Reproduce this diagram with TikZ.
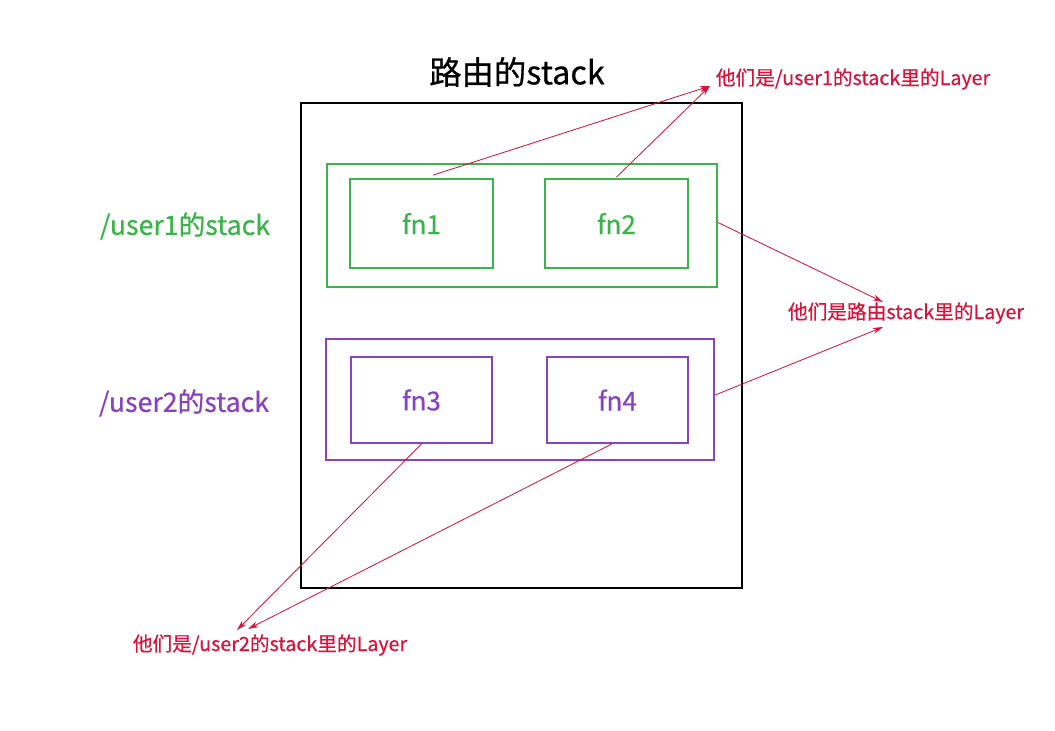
\documentclass[tikz,border=0pt]{standalone}
\usepackage{fontspec}
\setmainfont{Noto Sans CJK SC}[FakeBold=0.6]
\usepackage{xcolor}
\definecolor{vizStack}{HTML}{000000}
\definecolor{vizUserOne}{HTML}{3BB44A}
\definecolor{vizUserTwo}{HTML}{8A43C0}
\definecolor{vizNote}{HTML}{D7143C}
\usetikzlibrary{arrows.meta}

\begin{document}
\begin{tikzpicture}[x=0.025cm,y=-0.025cm,
  box/.style={draw,inner sep=0pt},
  note/.style={text=vizNote,font=\fontsize{14}{16}\selectfont},
  pointer/.style={draw=vizNote,line width=0.6pt,-{Stealth[length=2.6mm,width=1.5mm]}}]
  \filldraw[fill=white, draw=none] (0,0) rectangle (1055,731);
  \useasboundingbox (0,0) rectangle (1055,731);
  % route stack
  \node (title) at (517,72) {\fontsize{23}{27}\selectfont 路由的stack};
  \node[box, draw=vizStack, line width=1.8pt, minimum width=11.025cm, minimum height=12.125cm] (route) at (521.5,345.5) {};
  % /user1
  \node[box, draw=vizUserOne, line width=1.3pt, minimum width=9.75cm, minimum height=3.075cm] (userone) at (522,225.5) {};
  \node[box, draw=vizUserOne, line width=1.3pt, minimum width=3.575cm, minimum height=2.225cm, text=vizUserOne, font=\fontsize{18.5}{22}\selectfont] (fnone) at (421.5,223.5) {fn1};
  \node[box, draw=vizUserOne, line width=1.3pt, minimum width=3.575cm, minimum height=2.225cm, text=vizUserOne, font=\fontsize{18.5}{22}\selectfont] (fntwo) at (616.5,223.5) {fn2};
  \node[text=vizUserOne, font=\fontsize{19}{22}\selectfont] (labone) at (185,226) {/user1的stack};
  % /user2
  \node[box, draw=vizUserTwo, line width=1.3pt, minimum width=9.7cm, minimum height=3.025cm] (usertwo) at (520,399.5) {};
  \node[box, draw=vizUserTwo, line width=1.3pt, minimum width=3.525cm, minimum height=2.15cm, text=vizUserTwo, font=\fontsize{18.5}{22}\selectfont] (fnthree) at (421.5,400) {fn3};
  \node[box, draw=vizUserTwo, line width=1.3pt, minimum width=3.525cm, minimum height=2.15cm, text=vizUserTwo, font=\fontsize{18.5}{22}\selectfont] (fnfour) at (617.5,400) {fn4};
  \node[text=vizUserTwo, font=\fontsize{19}{22}\selectfont] (labtwo) at (184,403) {/user2的stack};
  % notes
  \node[note] (noteone) at (853,79) {他们是/user1的stack里的Layer};
  \node[note] (noteroute) at (906,313) {他们是路由stack里的Layer};
  \node[note] (notetwo) at (270,645) {他们是/user2的stack里的Layer};
  \coordinate (tipone) at (710,86);
  \coordinate (tiprouteA) at (883,302);
  \coordinate (tiprouteB) at (883,327);
  \coordinate (tiptwoA) at (237,630);
  \coordinate (tiptwoB) at (248,629);
  \draw[pointer] ([xshift=0.29cm,yshift=0.075cm]fnone.north) -- (tipone);
  \draw[pointer] ([yshift=0.025cm]fntwo.north) -- (tipone);
  \draw[pointer] ([yshift=0.075cm]userone.east) -- (tiprouteA);
  \draw[pointer] ([yshift=0.11cm]usertwo.east) -- (tiprouteB);
  \draw[pointer] (fnthree.south) -- (tiptwoA);
  \draw[pointer] ([xshift=-0.14cm]fnfour.south) -- (tiptwoB);
\end{tikzpicture}
\end{document}
